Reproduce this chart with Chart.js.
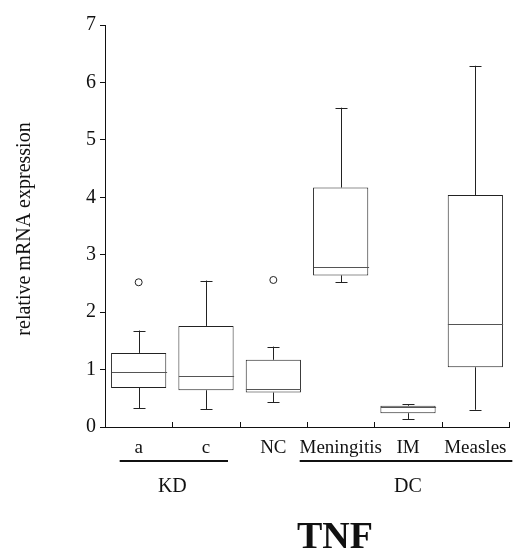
<!DOCTYPE html>
<html lang="en">
<head>
<meta charset="UTF-8">
<script src="https://cdn.jsdelivr.net/npm/chart.js"></script>
<title>TNF</title>
<style>
  body{margin:0; background:#fff;}
  #wrap{width:516px; height:554px;}
</style>
</head>
<body>
<div id="wrap"><canvas id="myChart" width="516" height="554"></canvas></div>
<script>
// groups on the x axis
const labels = ['a', 'c', 'NC', 'Meningitis', 'IM', 'Measles'];
// box plot values
const mins    = [0.33, 0.31, 0.43, 2.52, 0.14, 0.30];
const q1      = [0.68, 0.64, 0.60, 2.64, 0.24, 1.04];
const medians = [0.96, 0.89, 0.67, 2.78, 0.34, 1.79];
const q3      = [1.29, 1.76, 1.17, 4.17, 0.37, 4.04];
const maxs    = [1.68, 2.55, 1.40, 5.56, 0.40, 6.29];
const outliers = [2.52, null, 2.56, null, null, null];
const yTicks = [0, 1, 2, 3, 4, 5, 6, 7];

const serif = "'Liberation Serif', 'Times New Roman', serif";

// whiskers, medians, x ticks, groups and titles
const boxExtras = {
  id: 'boxExtras',
  afterDatasetsDraw(chart) {
    const ctx = chart.ctx;
    const x = chart.scales.x, y = chart.scales.y;
    const bars = chart.getDatasetMeta(0).data;
    ctx.save();
    ctx.strokeStyle = '#222';
    ctx.lineWidth = 1;
    for (let i = 0; i < labels.length; i++) {
      const cx = Math.round(x.getPixelForValue(i)) + 0.5;
      const half = bars[i].width / 2;
      const cap = 6;
      const yMin = y.getPixelForValue(mins[i]), yMax = y.getPixelForValue(maxs[i]);
      const yQ1 = y.getPixelForValue(q1[i]), yQ3 = y.getPixelForValue(q3[i]);
      const yMed = Math.round(y.getPixelForValue(medians[i])) + 0.5;
      ctx.beginPath();
      ctx.moveTo(cx, yQ3); ctx.lineTo(cx, yMax);
      ctx.moveTo(cx - cap, Math.round(yMax) + 0.5); ctx.lineTo(cx + cap, Math.round(yMax) + 0.5);
      ctx.moveTo(cx, yQ1); ctx.lineTo(cx, yMin);
      ctx.moveTo(cx - cap, Math.round(yMin) + 0.5); ctx.lineTo(cx + cap, Math.round(yMin) + 0.5);
      ctx.stroke();
      ctx.strokeStyle = '#555';
      ctx.beginPath();
      ctx.moveTo(cx - half, yMed); ctx.lineTo(cx + half, yMed);
      ctx.stroke();
      ctx.strokeStyle = '#222';
    }
    ctx.restore();
  },
  afterDraw(chart) {
    const ctx = chart.ctx;
    const x = chart.scales.x, y = chart.scales.y;
    const area = chart.chartArea;
    const step = (x.getPixelForValue(1) - x.getPixelForValue(0));
    ctx.save();
    // x ticks at category boundaries, pointing inwards
    ctx.strokeStyle = '#111';
    ctx.lineWidth = 1;
    ctx.beginPath();
    for (let i = 0; i <= labels.length; i++) {
      const bx = Math.round(x.getPixelForValue(i) - step / 2) + 0.5;
      ctx.moveTo(bx, area.bottom);
      ctx.lineTo(bx, area.bottom - 5);
    }
    ctx.stroke();

    // group lines and names
    const lineY = area.bottom + 34;
    ctx.lineWidth = 2;
    ctx.beginPath();
    ctx.moveTo(x.getPixelForValue(0) - 19, lineY);
    ctx.lineTo(x.getPixelForValue(1) + 22, lineY);
    ctx.moveTo(x.getPixelForValue(3) - 41, lineY);
    ctx.lineTo(x.getPixelForValue(5) + 37, lineY);
    ctx.stroke();

    ctx.fillStyle = '#111';
    ctx.textAlign = 'center';
    ctx.textBaseline = 'alphabetic';
    ctx.font = '20px ' + serif;
    ctx.fillText('KD', (x.getPixelForValue(0) + x.getPixelForValue(1)) / 2, area.bottom + 65);
    ctx.fillText('DC', x.getPixelForValue(4), area.bottom + 65);

    ctx.font = 'bold 38px ' + serif;
    ctx.fillText('TNF', 335, area.bottom + 121);

    // y axis title
    ctx.font = '20px ' + serif;
    ctx.translate(25, (area.top + area.bottom) / 2 + 3);
    ctx.rotate(-Math.PI / 2);
    ctx.textBaseline = 'middle';
    ctx.fillText('relative mRNA expression', 0, 0);
    ctx.restore();
  }
};

new Chart(document.getElementById('myChart'), {
  data: {
    labels: labels,
    datasets: [{
      type: 'bar',
      data: q1.map((v, i) => [v, q3[i]]),
      backgroundColor: '#fff',
      borderColor: '#222',
      borderWidth: 1,
      borderSkipped: false,
      barPercentage: 0.82,
      categoryPercentage: 1,
      order: 2
    }, {
      type: 'line',
      data: outliers,
      showLine: false,
      pointRadius: 3.5,
      pointBackgroundColor: '#fff',
      pointBorderColor: '#222',
      pointBorderWidth: 1,
      order: 1
    }]
  },
  options: {
    responsive: false,
    animation: false,
    events: [],
    layout: {padding: {top: 25, right: 7, left: 0, bottom: 0}},
    plugins: {legend: {display: false}, tooltip: {enabled: false}},
    scales: {
      x: {
        offset: true,
        grid: {display: false, offset: true},
        border: {display: true, color: '#111', width: 1},
        ticks: {color: '#111', font: {family: serif, size: 19}, padding: 2, maxRotation: 0, autoSkip: false},
        afterFit(scale) { scale.height = 127; }
      },
      y: {
        min: 0, max: 7,
        afterBuildTicks(scale) { scale.ticks = yTicks.map(v => ({value: v})); },
        grid: {drawOnChartArea: false, drawTicks: true, tickLength: 5, color: '#111'},
        border: {display: true, color: '#111', width: 1},
        ticks: {color: '#111', font: {family: serif, size: 20}, padding: 4},
        afterFit(scale) { scale.width = 105; }
      }
    }
  },
  plugins: [boxExtras]
});
</script>
</body>
</html>
